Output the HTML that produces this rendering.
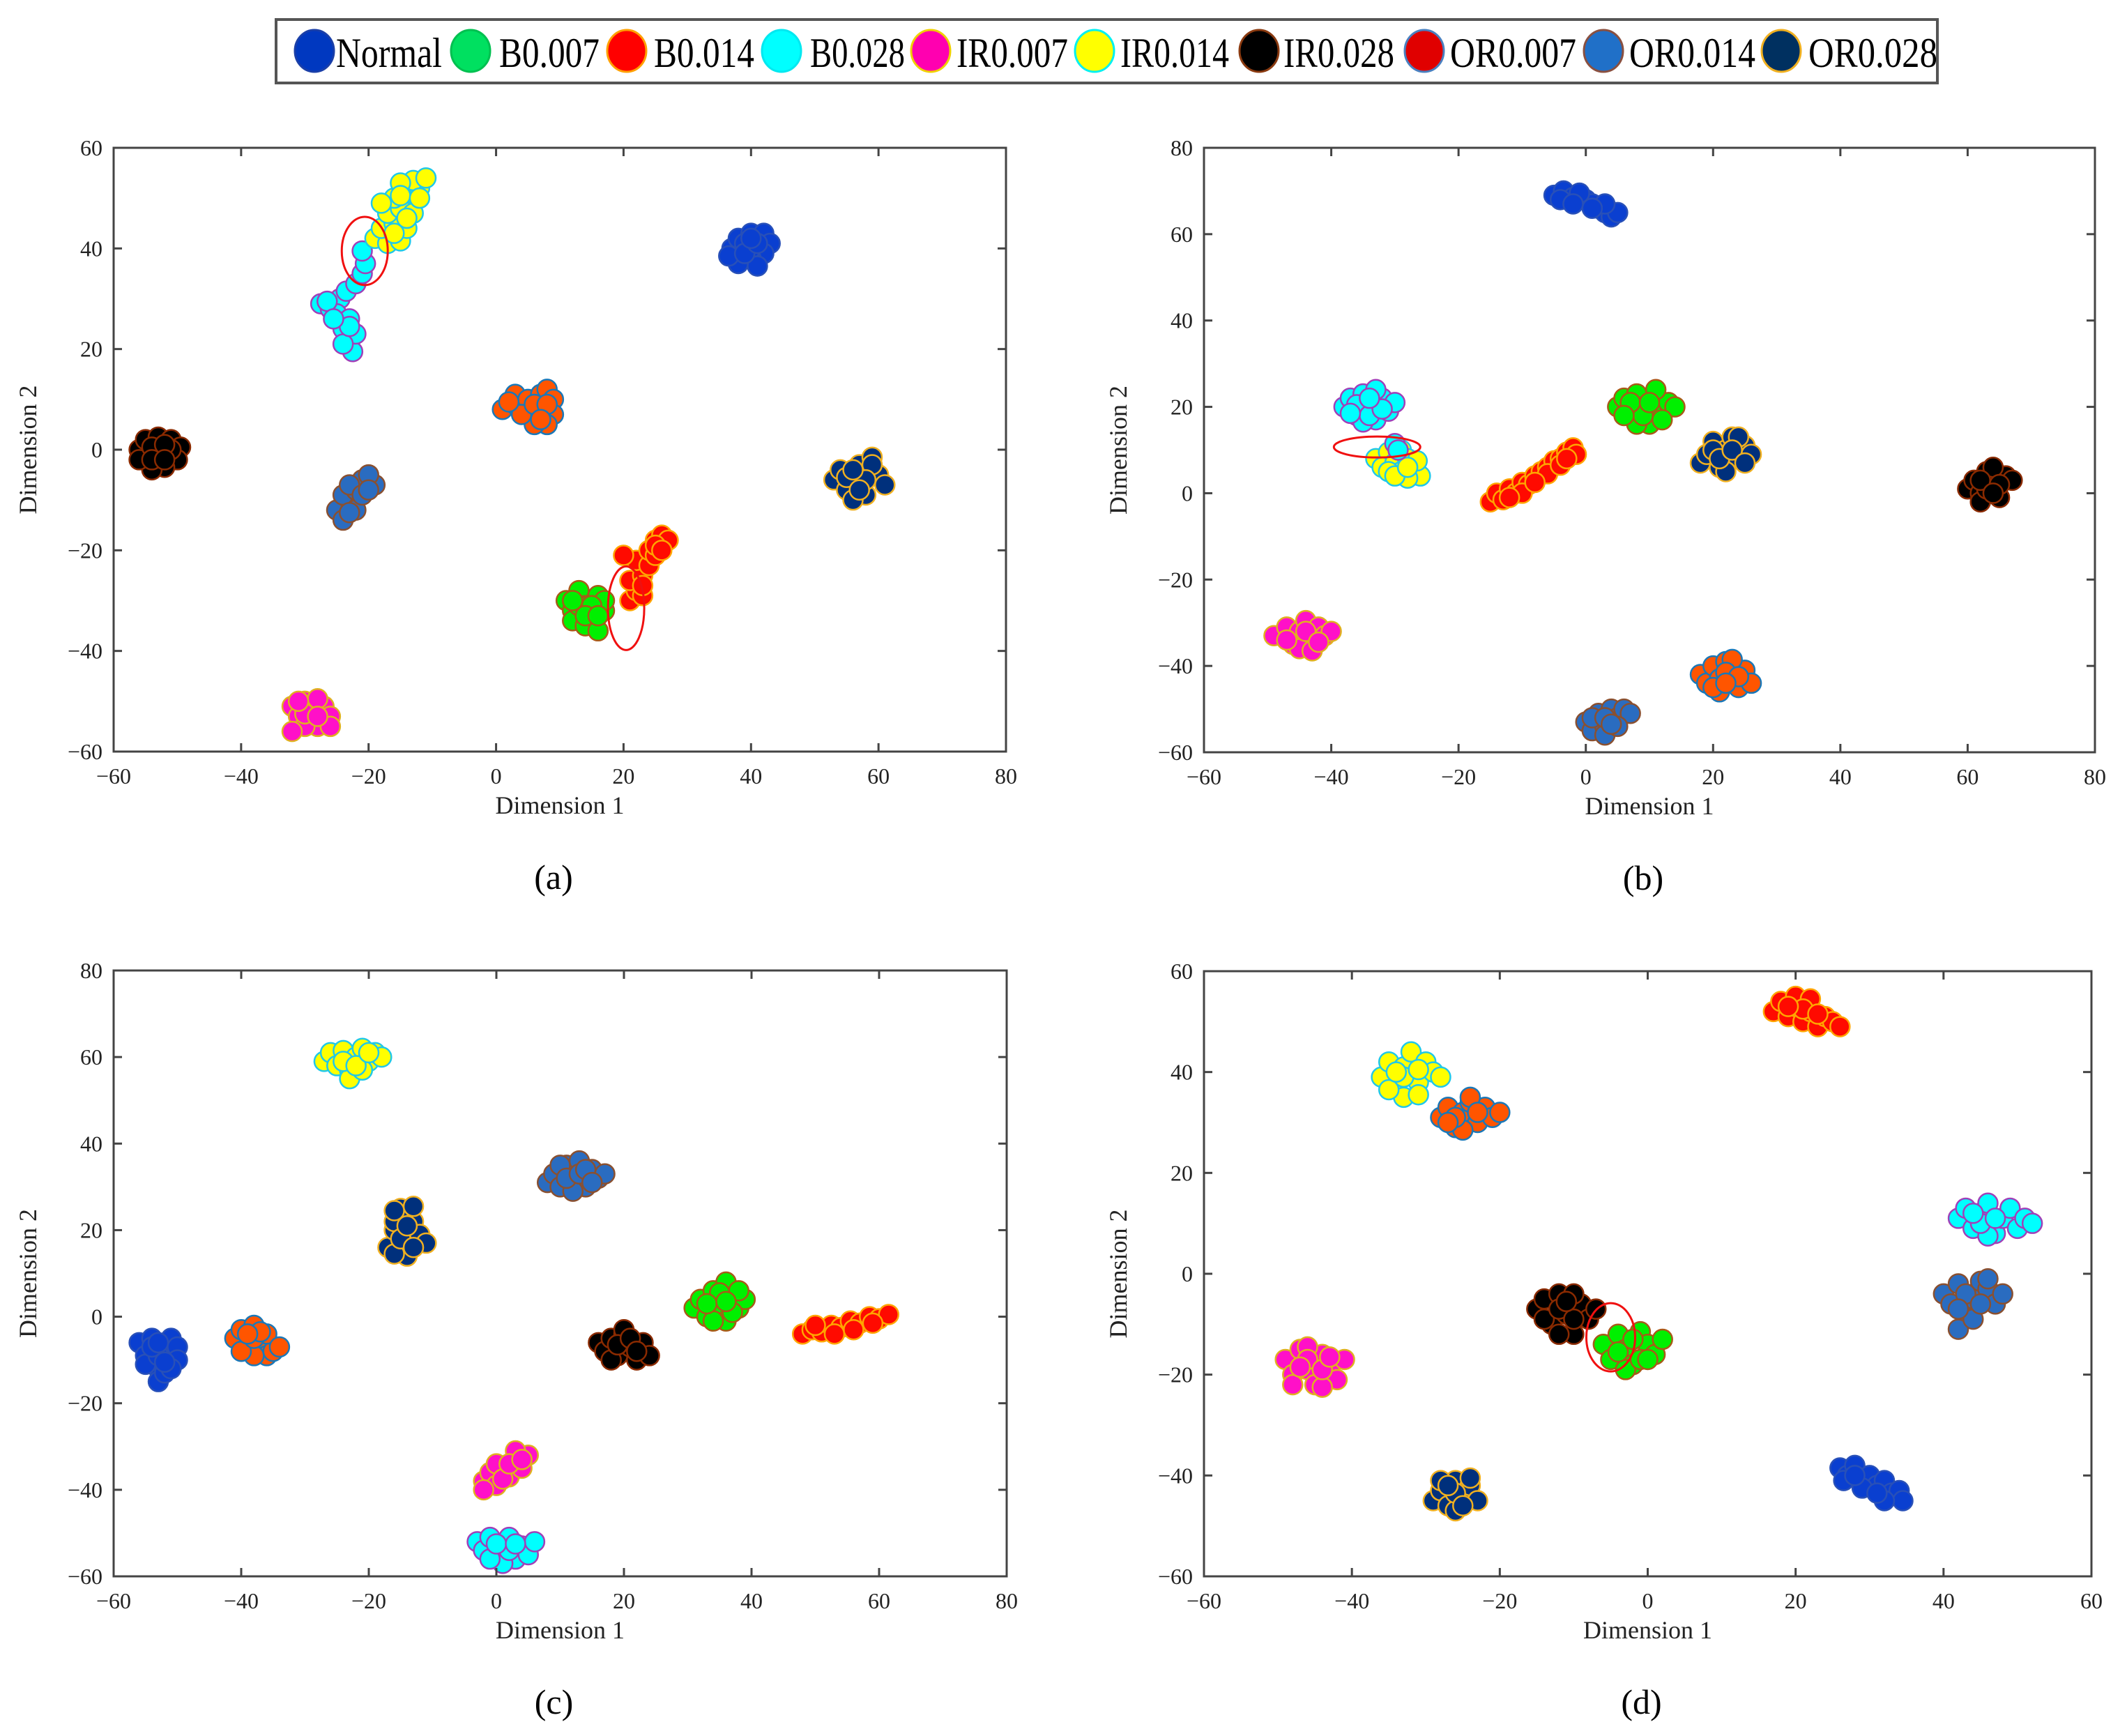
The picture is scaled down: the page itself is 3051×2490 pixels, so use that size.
<!DOCTYPE html>
<html><head><meta charset="utf-8">
<style>
html,body{margin:0;padding:0;background:#fff;}
svg{display:block;}
text{font-family:"Liberation Serif",serif;fill:#222;}
</style></head>
<body>
<svg id="fig" width="3051" height="2490" viewBox="0 0 3051 2490" xmlns="http://www.w3.org/2000/svg">
<g id="legend"></g>
<g id="panels"></g>
</svg>
<script>
// ---------- data ----------
const classNames = ["Normal","B0.007","B0.014","B0.028","IR0.007","IR0.014","IR0.028","OR0.007","OR0.014","OR0.028"];
const xTicksA = [-60,-40,-20,0,20,40,60,80];
const yTicksA = [-60,-40,-20,0,20,40,60];
const yTicksB = [-60,-40,-20,0,20,40,60,80];
const xTicksD = [-60,-40,-20,0,20,40,60];
const panelLabels = ["(a)","(b)","(c)","(d)"];

// panel (a) clusters
const a_normal = [[37,40],[38,42],[40,43],[42,43],[43,41],[42,39],[40,38],[38,37],[40,40],[41,36.5],[39,41],[36.5,38.5],[39,39],[41,41],[40,42]];
const a_ir028 = [[-56,0],[-55,2],[-53,2.5],[-51,2],[-49.5,0.5],[-50,-2],[-52,-3.5],[-54,-4],[-56,-2],[-53,-1],[-51,0],[-54,0.5],[-52,1],[-54,-2],[-52,-2]];
const a_or014 = [[-25,-12],[-24,-14],[-23,-10],[-22,-12],[-24,-9],[-22,-8],[-21,-6],[-19,-7],[-20,-5],[-23,-7],[-21,-9],[-23,-12.5],[-20,-8]];
const a_or007 = [[1,8],[3,9],[3,11],[5,10],[5,7],[7,11],[8,12],[9,10],[9,7],[8,5],[6,5],[7,8],[4,7],[6,9],[8,9],[7,6],[2,9.5]];
const a_or028 = [[53,-6],[54,-4],[55,-8],[57,-3],[57,-6],[58,-9],[59,-1.5],[60,-5],[61,-7],[56,-10],[59,-3],[55,-5.5],[58,-6],[57,-8],[56,-4]];
const a_b007 = [[11,-30],[12,-32],[13,-28],[14,-31],[15,-34],[16,-29],[17,-32],[12,-34],[14,-35],[16,-36],[17,-30],[13,-31],[15,-31],[14,-33],[16,-33],[12,-30]];
const a_b014 = [[21,-30],[22,-28],[21,-26],[23,-25],[22,-22],[24,-23],[24,-20],[25,-18],[26,-17],[27,-18],[25,-21],[23,-29],[20,-21],[23,-27],[25,-19],[26,-20]];
const a_ir007 = [[-32,-51],[-31,-53],[-30,-50],[-29,-52],[-28,-55],[-27,-51],[-26,-53],[-30,-55],[-32,-56],[-28,-49.5],[-26,-55],[-30,-52.5],[-28,-53],[-31,-50]];
const a_b028 = [[-27.5,29],[-26,28],[-24.5,30],[-25,27],[-24,25],[-23,22],[-22.5,19.5],[-22,23],[-23,26],[-23.5,31.5],[-22,33],[-21,35],[-20.5,37],[-21,39.5],[-24,24],[-26.5,29.5],[-24,21],[-23,24.5],[-25.5,26]];
const a_ir014 = [[-19,42],[-17,41],[-15,41.5],[-18,44],[-16,45],[-14,44],[-17,47],[-15,48],[-13,47],[-16,50],[-14,51],[-12,52],[-13,53.5],[-11,54],[-15,53],[-18,49],[-16,43],[-14,46],[-15,50.5],[-12,50]];

// panel (b)
const b_normal = [[-5,69],[-3.5,70],[-2,68.5],[0,68],[1,67],[2,66],[3,65],[4,64],[5,65],[-1,69.5],[3,67],[-4,68],[1,66],[-2,67]];
const b_b028 = [[-38,20],[-37,22],[-36,18],[-35,23],[-34,20],[-33,17],[-32,22],[-31,19],[-30,21],[-35,16.5],[-33,24],[-36,20.5],[-34,18],[-32,19.5],[-34,22],[-37,18.5]];
const b_ir014 = [[-33,8],[-31,9.5],[-29,10],[-32,6],[-30,7],[-28,8],[-29,5],[-27,6],[-26,4],[-28,3.5],[-31,5],[-26.5,7.5],[-30,4],[-28,6]];
const b_b028x = [[-30,11.5],[-29.5,10]];
const b_b014 = [[-15,-2],[-14,0],[-13,-1.5],[-12,1],[-11,0],[-10,2.5],[-9,2],[-8,4],[-7,5],[-6,6],[-5,7.5],[-4,8],[-3,9.5],[-2,10.5],[-1.5,9],[-6,4.5],[-10,0],[-12,-1],[-8,2.5],[-4,6.5],[-3,8]];
const b_b007 = [[5,20],[6,22],[7,18],[8,23],[9,20],[10,16],[11,22],[12,19],[13,21],[14,20],[8,16],[11,24],[9,18],[7,21],[10,21],[12,17],[6,18]];
const b_or028 = [[18,7],[19,9],[20,12],[21,6],[22,10],[23,13],[24,8],[25,11],[26,9],[22,5],[20,10],[24,13],[21,8],[23,10],[25,7]];
const b_ir028 = [[60,1],[61,3],[62,0],[63,5],[64,2],[65,-1],[66,4],[67,3],[62,-2],[64,6],[63,1],[62,3],[65,2],[64,0]];
const b_ir007 = [[-49,-33],[-47,-31],[-46,-35],[-45,-32],[-44,-29.5],[-43,-34],[-42,-31],[-41,-33],[-40,-32],[-45,-36],[-43,-36.5],[-47,-34],[-44,-32],[-42,-34.5]];
const b_or014 = [[0,-53],[1,-55],[2,-51],[3,-54],[4,-50],[5,-52],[6,-50],[7,-51],[3,-56],[1,-52],[5,-54],[3,-52],[4,-53.5]];
const b_or007 = [[18,-42],[19,-44],[20,-40],[21,-43],[22,-39],[23,-42],[24,-45],[25,-41],[26,-44],[21,-46],[23,-38.5],[20,-45],[22,-41.5],[24,-42.5],[22,-44]];

// panel (c)
const c_ir014 = [[-27,59],[-26,61],[-25,58],[-24,61.5],[-23,57],[-22,60],[-21,62],[-20,59],[-19,61],[-18,60],[-23,55],[-21,57],[-24,59],[-22,58],[-20,61]];
const c_or014 = [[8,31],[9,33],[10,30],[11,35],[12,32],[13,36],[14,30],[15,34],[16,32],[17,33],[12,29],[10,35],[11,32],[13,33],[14,34],[15,31]];
const c_or028 = [[-17,16],[-16,20],[-15,24],[-14,14],[-14,18],[-13,22],[-12,19],[-11,17],[-16,14.5],[-15,25],[-13,25.5],[-16,22],[-15,18],[-14,21],[-13,16],[-16,24.5]];
const c_normal = [[-56,-6],[-55,-9],[-54,-5],[-53,-12],[-52,-8],[-51,-5],[-50,-7],[-50,-10],[-53,-15],[-52,-13],[-55,-11],[-51,-12],[-53,-9],[-54,-7],[-52,-10.5],[-53,-6]];
const c_or007 = [[-41,-5],[-40,-3],[-39,-7],[-38,-2],[-37,-6],[-36,-9],[-35,-8],[-38,-9],[-36,-4],[-34,-7],[-40,-8],[-38,-5],[-37,-3.5],[-39,-4]];
const c_ir028 = [[16,-6],[17,-8],[18,-5],[19,-9],[20,-4],[21,-7],[22,-10],[23,-6],[24,-9],[20,-3],[18,-10],[19,-6.5],[21,-5],[22,-8]];
const c_b007 = [[31,2],[32,4],[33,0],[34,6],[35,3],[36,-1],[37,5],[38,2],[39,4],[36,8],[34,-1],[38,6],[35,5.5],[33,3],[37,1],[36,3.5]];
const c_b014 = [[48,-4],[49.5,-3],[51,-3.5],[52.5,-2],[54,-2.5],[55.5,-1],[57,-1.5],[58.5,0],[60,-0.5],[61.5,0.5],[53,-4],[56,-3],[50,-2],[59,-1.5]];
const c_ir007 = [[-2,-38],[-1,-36],[0,-39],[1,-35],[2,-37],[3,-33],[4,-35],[5,-32],[3,-31],[0,-34],[-2,-40],[1,-37.5],[2,-34],[4,-33]];
const c_b028 = [[-3,-52],[-2,-54],[-1,-51],[0,-55],[1,-53],[2,-51],[3,-56],[4,-53],[5,-55],[6,-52],[1,-57],[-1,-56],[2,-54],[0,-52.5],[3,-52.5]];

// panel (d)
const d_b014 = [[17,52],[18,54],[19,51],[20,53],[21,50],[22,52],[23,49],[24,51],[25,50],[26,49],[20,55],[22,54.5],[21,52.5],[19,53],[23,51.5]];
const d_ir014 = [[-36,39],[-35,42],[-34,37],[-33,41],[-32,44],[-31,38],[-30,42],[-29,40],[-28,39],[-33,35],[-31,35.5],[-35,36.5],[-33,39],[-31,40.5],[-34,40]];
const d_or007 = [[-28,31],[-27,33],[-26,29],[-25,32],[-24,34],[-23,30],[-22,33],[-21,31],[-20,32],[-25,28.5],[-24,35],[-26,31],[-23,32],[-27,30]];
const d_b028 = [[42,11],[43,13],[44,9],[45,12],[46,14],[47,8],[48,11],[49,13],[50,9],[51,11],[52,10],[46,7.5],[45,10],[47,11],[44,12]];
const d_or014 = [[40,-4],[41,-6],[42,-2],[43,-8],[44,-5],[45,-1.5],[46,-3],[47,-6],[48,-4],[42,-11],[44,-9],[46,-1],[43,-4],[45,-6],[42,-7]];
const d_ir028 = [[-15,-7],[-14,-5],[-13,-10],[-12,-4],[-11,-8],[-10,-12],[-9,-6],[-8,-9],[-7,-7],[-12,-12],[-14,-9],[-10,-4],[-12,-7],[-10,-9],[-11,-5.5]];
const d_b007 = [[-6,-14],[-5,-17],[-4,-12],[-3,-15],[-2,-18],[-1,-11.5],[0,-14],[1,-16],[2,-13],[-3,-19],[-1,-17],[-4,-15.5],[-2,-13],[0,-17]];
const d_ir007 = [[-49,-17],[-48,-20],[-47,-15],[-46,-19],[-45,-22],[-44,-16],[-43,-19],[-42,-21],[-41,-17],[-46,-14.5],[-44,-22.5],[-48,-22],[-46,-17],[-44,-19],[-47,-18.5],[-43,-16.5]];
const d_or028 = [[-29,-45],[-28,-43],[-27,-46],[-26,-41],[-25,-44],[-24,-42],[-23,-45],[-26,-47],[-28,-41],[-24,-40.5],[-26,-43.5],[-27,-42],[-25,-46]];
const d_normal = [[26,-38.5],[27,-40],[28,-38],[29,-41],[30,-40],[31,-42],[32,-41],[33,-43.5],[34,-43],[34.5,-45],[32,-45],[29,-42.5],[26.5,-41],[28,-40],[31,-43.5]];

// ---------- styles ----------
const STY = {
 "Normal":{f:"#0a3fd0",s:"#2850b8"},
 "B0.007":{f:"#00f000",s:"#a85a18"},
 "B0.014":{f:"#ff0a00",s:"#ffa500"},
 "B0.028":{f:"#00ffff",s:"#a040b8"},
 "IR0.007":{f:"#ff10c8",s:"#e0b020"},
 "IR0.014":{f:"#ffff00",s:"#20c8e8"},
 "IR0.028":{f:"#000000",s:"#8a2a00"},
 "OR0.007":{f:"#ff5500",s:"#1a78b8"},
 "OR0.014":{f:"#2a6cc0",s:"#8a5030"},
 "OR0.028":{f:"#00307c",s:"#f0b020"}
};
const LEG = {
 "Normal":["#0038c0","#1a3fa8"],"B0.007":["#00e060","#00c050"],"B0.014":["#ff0000","#ffa000"],
 "B0.028":["#00ffff","#00e8f0"],"IR0.007":["#ff00b0","#f0d000"],"IR0.014":["#ffff00","#00f0f0"],
 "IR0.028":["#000000","#8a3a10"],"OR0.007":["#e00000","#4a80c0"],"OR0.014":["#2070c8","#8a5040"],
 "OR0.028":["#003060","#f0b020"]
};

const NS="http://www.w3.org/2000/svg";
function mk(tag, attrs, parent){const e=document.createElementNS(NS,tag);for(const k in attrs)e.setAttribute(k,attrs[k]);if(parent)parent.appendChild(e);return e;}

// ---------- legend ----------
const lg=document.getElementById('legend');
const lbox=mk('rect',{x:396,y:28,width:2383,height:91,fill:'#fff',stroke:'#555','stroke-width':4},lg);


const legMarkX=[451,675,899,1121,1335,1570,1806,2043,2300,2555];
const legTextX=[482,716,938,1162,1372,1607,1841,2080,2337,2594];
const legTextW=[152,144,144,136,160,156,159,181,181,185];
classNames.forEach((n,i)=>{
  const g=mk('g',{},lg);
  
  
  mk('ellipse',{cx:legMarkX[i],cy:73,rx:28,ry:30,fill:LEG[n][0],stroke:LEG[n][1],'stroke-width':3},g);
  const t=mk('text',{x:legTextX[i],y:96,'font-size':60,textLength:legTextW[i],lengthAdjust:'spacingAndGlyphs',style:'fill:#000'},g);
  t.textContent=n;
});

// ---------- panels ----------
const panels=[
 {L:163,R:1443,T:212,B:1078,x0:-60,x1:80,y0:-60,y1:60,xt:xTicksA,yt:yTicksA,
  clusters:[["B0.028",a_b028],["IR0.014",a_ir014],["Normal",a_normal],["IR0.028",a_ir028],["OR0.014",a_or014],["OR0.007",a_or007],["OR0.028",a_or028],["B0.007",a_b007],["B0.014",a_b014],["IR0.007",a_ir007]],
  ell:[[-20.6,39.5,33,49],[20.4,-31.5,26,60]]},
 {L:1727,R:3005,T:212,B:1079,x0:-60,x1:80,y0:-60,y1:80,xt:xTicksA,yt:yTicksB,
  clusters:[["Normal",b_normal],["B0.028",b_b028],["IR0.014",b_ir014],["B0.028",b_b028x],["B0.014",b_b014],["B0.007",b_b007],["OR0.028",b_or028],["IR0.028",b_ir028],["IR0.007",b_ir007],["OR0.014",b_or014],["OR0.007",b_or007]],
  ell:[[-32.8,10.7,62,15]]},
 {L:163,R:1444,T:1392,B:2261,x0:-60,x1:80,y0:-60,y1:80,xt:xTicksA,yt:yTicksB,
  clusters:[["IR0.014",c_ir014],["OR0.014",c_or014],["OR0.028",c_or028],["Normal",c_normal],["OR0.007",c_or007],["IR0.028",c_ir028],["B0.007",c_b007],["B0.014",c_b014],["IR0.007",c_ir007],["B0.028",c_b028]],
  ell:[]},
 {L:1727,R:3000,T:1393,B:2261,x0:-60,x1:60,y0:-60,y1:60,xt:xTicksD,yt:yTicksA,
  clusters:[["B0.014",d_b014],["IR0.014",d_ir014],["OR0.007",d_or007],["B0.028",d_b028],["OR0.014",d_or014],["IR0.028",d_ir028],["B0.007",d_b007],["IR0.007",d_ir007],["OR0.028",d_or028],["Normal",d_normal]],
  ell:[[-5,-12.6,35,49]]}
];
const root=document.getElementById('panels');
panels.forEach((p,pi)=>{
  const id="abcd"[pi];
  const g=mk('g',{},root);
  
  
  const sx=v=>p.L+(v-p.x0)/(p.x1-p.x0)*(p.R-p.L);
  const sy=v=>p.B-(v-p.y0)/(p.y1-p.y0)*(p.B-p.T);
  p.clusters.forEach(([n,pts])=>{
    const cg=mk('g',{},g);
    
    
    pts.forEach(pt=>{
      const c=mk('circle',{cx:sx(pt[0]),cy:sy(pt[1]),r:14,fill:STY[n].f,stroke:STY[n].s,'stroke-width':2.5},cg);
      
      
    });
  });
  p.ell.forEach(e=>{
    const el=mk('ellipse',{cx:sx(e[0]),cy:sy(e[1]),rx:e[2],ry:e[3],fill:'none',stroke:'#f01010','stroke-width':3},g);
    
    
  });
  const box=mk('rect',{x:p.L,y:p.T,width:p.R-p.L,height:p.B-p.T,fill:'none',stroke:'#444','stroke-width':3},g);
  
  
  p.xt.forEach(v=>{
    const x=sx(v);
    mk('line',{x1:x,y1:p.B,x2:x,y2:p.B-12,stroke:'#444','stroke-width':3},g);
    mk('line',{x1:x,y1:p.T,x2:x,y2:p.T+12,stroke:'#444','stroke-width':3},g);
    const t=mk('text',{x:x,y:p.B+46,'font-size':32,'text-anchor':'middle'},g);
    
    
    t.textContent=(v<0?'\u2212'+(-v):''+v);
  });
  p.yt.forEach(v=>{
    const y=sy(v);
    mk('line',{x1:p.L,y1:y,x2:p.L+12,y2:y,stroke:'#444','stroke-width':3},g);
    mk('line',{x1:p.R,y1:y,x2:p.R-12,y2:y,stroke:'#444','stroke-width':3},g);
    const t=mk('text',{x:p.L-16,y:y+11,'font-size':32,'text-anchor':'end'},g);
    
    
    t.textContent=(v<0?'\u2212'+(-v):''+v);
  });
  const cx=(p.L+p.R)/2, cy=(p.T+p.B)/2;
  const xl=mk('text',{x:cx,y:p.B+89,'font-size':36,'text-anchor':'middle'},g);
  
  
  xl.textContent='Dimension 1';
  const yx=p.L-111;
  const yl=mk('text',{x:yx,y:cy,'font-size':36,'text-anchor':'middle',transform:`rotate(-90 ${yx} ${cy})`},g);
  
  
  yl.textContent='Dimension 2';
  const pl=mk('text',{x:cx-9,y:p.B+197,'font-size':50,'text-anchor':'middle',style:'fill:#000'},g);
  
  
  pl.textContent=panelLabels[pi];
});
</script>
</body></html>
